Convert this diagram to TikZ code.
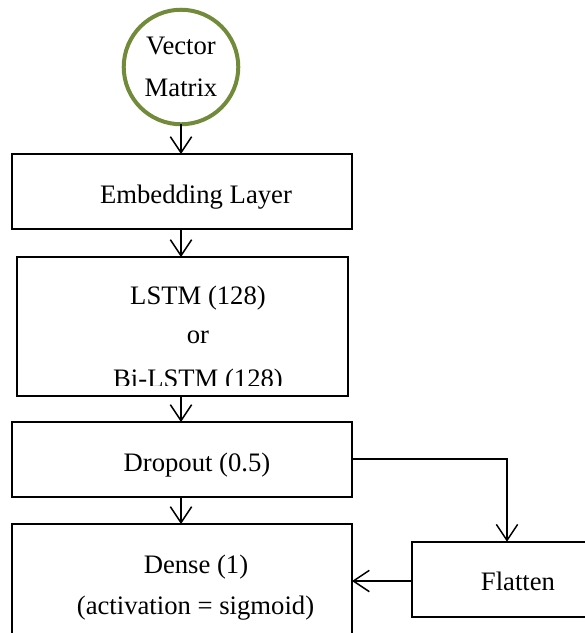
\documentclass[tikz,border=0pt]{standalone}
\usepackage{fontspec}
\setmainfont{Liberation Serif}
\usetikzlibrary{arrows.meta}
\definecolor{leaf}{RGB}{114,139,58}
\tikzset{
  layerbox/.style={draw=black, line width=1.5pt, rectangle, inner sep=0pt, outer sep=0pt},
  lbl/.style={font=\fontsize{20pt}{24pt}\selectfont, inner sep=0pt, anchor=base},
  flow/.style={draw=black, line width=1.1pt, -{Straight Barb[length=12pt,width=16pt,line width=1.1pt]}},
}
\begin{document}
\begin{tikzpicture}[x=0.75pt, y=-0.75pt]
  \useasboundingbox (0,0) rectangle (585,633);
  \clip (0,0) rectangle (585,633);

  % input circle
  \node[draw=leaf, line width=3pt, circle, minimum size=85.9pt, inner sep=0pt, outer sep=0pt] (vec) at (181,67) {};
  \node[lbl] (vectxt) at (181,54) {Vector};
  \node[lbl] (mattxt) at (181,96) {Matrix};

  % layer boxes
  \node[layerbox, minimum width=255pt, minimum height=56.25pt] (emb) at (182,191.5) {};
  \node[lbl] (embtxt) at (196,203) {Embedding Layer};

  \node[layerbox, minimum width=248.25pt, minimum height=104.25pt] (lstm) at (182.5,326.5) {};
  \node[lbl] (lstmtxt) at (198,304) {LSTM (128)};
  \node[lbl] (ortxt) at (198,343) {or};
  \begin{scope}
    \clip (17,258) rectangle (348,385);
    \node[lbl] (bitxt) at (198,387) {Bi-LSTM (128)};
  \end{scope}

  \node[layerbox, minimum width=255pt, minimum height=56.25pt] (drop) at (182,459.5) {};
  \node[lbl] (droptxt) at (197,471) {Dropout (0.5)};

  \node[layerbox, minimum width=255pt, minimum height=101.25pt] (dense) at (182,591.5) {};
  \node[lbl] (densetxt) at (196,573) {Dense (1)};
  \node[lbl] (acttxt) at (195.5,614) {(activation = sigmoid)};

  \node[layerbox, minimum width=156pt, minimum height=56.25pt] (flat) at (516,579.2) {};
  \node[lbl] (flattxt) at (518,590) {Flatten};

  % connectors
  \draw[flow] (vec.south) -- (emb.north -| vec.south);
  \draw[flow] (emb.south -| vec.south) -- (lstm.north -| vec.south);
  \draw[flow] (lstm.south -| vec.south) -- (drop.north -| vec.south);
  \draw[flow] (drop.south -| vec.south) -- (dense.north -| vec.south);
  \coordinate (turn) at (507,459);
  \draw[flow] (drop.east |- turn) -- (turn) -- (flat.north -| turn);
  \draw[flow] (flat.west |- 0,581) -- (dense.east |- 0,581);
\end{tikzpicture}
\end{document}
